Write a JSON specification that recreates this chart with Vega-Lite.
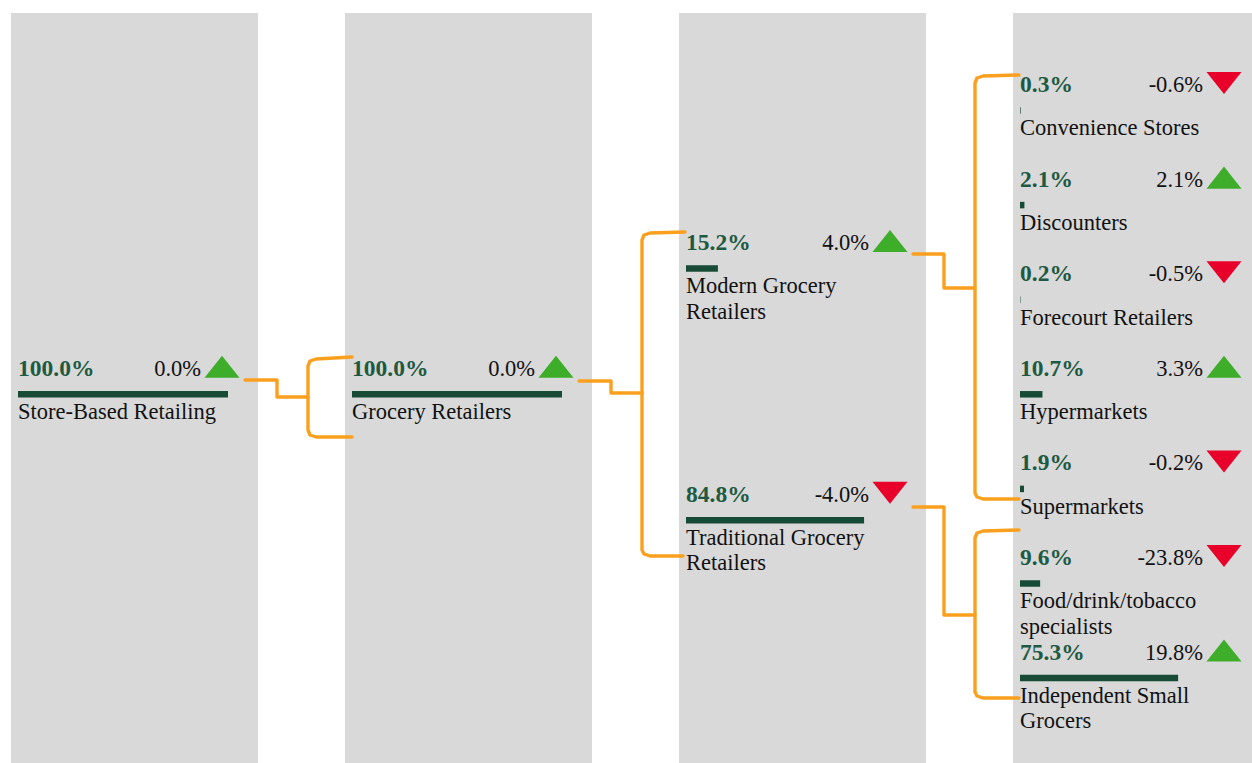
{
  "$schema": "https://vega.github.io/schema/vega-lite/v6.json",
  "width": 1252,
  "height": 763,
  "autosize": {"type": "none"},
  "padding": 0,
  "background": "#ffffff",
  "config": {"view": {"stroke": null}, "font": "Liberation Serif"},
  "datasets": {
    "columns": [{"level": 0}, {"level": 1}, {"level": 2}, {"level": 3}],
    "links": [
      {"id": "A-stub", "ord": 0, "x": 245, "y": 380},
      {"id": "A-stub", "ord": 1, "x": 277, "y": 380},
      {"id": "A-stub", "ord": 2, "x": 277, "y": 397},
      {"id": "A-stub", "ord": 3, "x": 308, "y": 397},
      {"id": "A-br", "ord": 0, "x": 352, "y": 357},
      {"id": "A-br", "ord": 1, "x": 316, "y": 359},
      {"id": "A-br", "ord": 2, "x": 310, "y": 361},
      {"id": "A-br", "ord": 3, "x": 308, "y": 366},
      {"id": "A-br", "ord": 4, "x": 308, "y": 430},
      {"id": "A-br", "ord": 5, "x": 310, "y": 435},
      {"id": "A-br", "ord": 6, "x": 316, "y": 437},
      {"id": "A-br", "ord": 7, "x": 352, "y": 437},
      {"id": "B-stub", "ord": 0, "x": 579, "y": 381},
      {"id": "B-stub", "ord": 1, "x": 611, "y": 381},
      {"id": "B-stub", "ord": 2, "x": 611, "y": 393},
      {"id": "B-stub", "ord": 3, "x": 642, "y": 393},
      {"id": "B-br", "ord": 0, "x": 685, "y": 232},
      {"id": "B-br", "ord": 1, "x": 650, "y": 233},
      {"id": "B-br", "ord": 2, "x": 644, "y": 235},
      {"id": "B-br", "ord": 3, "x": 642, "y": 240},
      {"id": "B-br", "ord": 4, "x": 642, "y": 550},
      {"id": "B-br", "ord": 5, "x": 644, "y": 554},
      {"id": "B-br", "ord": 6, "x": 650, "y": 556},
      {"id": "B-br", "ord": 7, "x": 683, "y": 556},
      {"id": "C-stub", "ord": 0, "x": 913, "y": 254},
      {"id": "C-stub", "ord": 1, "x": 944, "y": 254},
      {"id": "C-stub", "ord": 2, "x": 944, "y": 288},
      {"id": "C-stub", "ord": 3, "x": 975, "y": 288},
      {"id": "C-br", "ord": 0, "x": 1019, "y": 75},
      {"id": "C-br", "ord": 1, "x": 983, "y": 76},
      {"id": "C-br", "ord": 2, "x": 977, "y": 78},
      {"id": "C-br", "ord": 3, "x": 975, "y": 83},
      {"id": "C-br", "ord": 4, "x": 975, "y": 493},
      {"id": "C-br", "ord": 5, "x": 977, "y": 497},
      {"id": "C-br", "ord": 6, "x": 983, "y": 499},
      {"id": "C-br", "ord": 7, "x": 1019, "y": 499},
      {"id": "D-stub", "ord": 0, "x": 913, "y": 507},
      {"id": "D-stub", "ord": 1, "x": 944, "y": 507},
      {"id": "D-stub", "ord": 2, "x": 944, "y": 615},
      {"id": "D-stub", "ord": 3, "x": 975, "y": 615},
      {"id": "D-br", "ord": 0, "x": 1019, "y": 530},
      {"id": "D-br", "ord": 1, "x": 983, "y": 531},
      {"id": "D-br", "ord": 2, "x": 977, "y": 533},
      {"id": "D-br", "ord": 3, "x": 975, "y": 538},
      {"id": "D-br", "ord": 4, "x": 975, "y": 692},
      {"id": "D-br", "ord": 5, "x": 977, "y": 696},
      {"id": "D-br", "ord": 6, "x": 983, "y": 698},
      {"id": "D-br", "ord": 7, "x": 1019, "y": 698}
    ],
    "nodes": [
      {"name": "Store-Based Retailing", "share": 100.0, "change": 0.0, "level": 0, "slot": 3},
      {"name": "Grocery Retailers", "share": 100.0, "change": 0.0, "level": 1, "slot": 3},
      {"name": "Modern Grocery\nRetailers", "share": 15.2, "change": 4.0, "level": 2, "slot": 1.67},
      {"name": "Traditional Grocery\nRetailers", "share": 84.8, "change": -4.0, "level": 2, "slot": 4.331},
      {"name": "Convenience Stores", "share": 0.3, "change": -0.6, "level": 3, "slot": 0},
      {"name": "Discounters", "share": 2.1, "change": 2.1, "level": 3, "slot": 1},
      {"name": "Forecourt Retailers", "share": 0.2, "change": -0.5, "level": 3, "slot": 2},
      {"name": "Hypermarkets", "share": 10.7, "change": 3.3, "level": 3, "slot": 3},
      {"name": "Supermarkets", "share": 1.9, "change": -0.2, "level": 3, "slot": 4},
      {"name": "Food/drink/tobacco\nspecialists", "share": 9.6, "change": -23.8, "level": 3, "slot": 5},
      {"name": "Independent Small\nGrocers", "share": 75.3, "change": 19.8, "level": 3, "slot": 6}
    ]
  },
  "layer": [
    {
      "data": {"name": "columns"},
      "transform": [
        {"calculate": "11 + 334 * datum.level", "as": "x0"},
        {"calculate": "datum.x0 + 247", "as": "x1"}
      ],
      "mark": {"type": "rect", "color": "#D9D9D9"},
      "encoding": {
        "x": {"field": "x0", "type": "quantitative", "scale": {"domain": [0, 1252], "nice": false, "zero": false}, "axis": null},
        "x2": {"field": "x1"},
        "y": {"datum": 13, "type": "quantitative", "scale": {"domain": [0, 763], "nice": false, "zero": false, "reverse": true}, "axis": null},
        "y2": {"datum": 763}
      }
    },
    {
      "data": {"name": "links"},
      "mark": {"type": "line", "color": "#FBA01E", "strokeWidth": 3.4, "strokeJoin": "round", "strokeCap": "round"},
      "encoding": {
        "x": {"field": "x", "type": "quantitative"},
        "y": {"field": "y", "type": "quantitative"},
        "detail": {"field": "id"},
        "order": {"field": "ord", "type": "quantitative"}
      }
    },
    {
      "data": {"name": "nodes"},
      "transform": [
        {"calculate": "18 + 334 * datum.level", "as": "xl"},
        {"calculate": "92 + 94.6 * datum.slot", "as": "yb"},
        {"calculate": "datum.xl + 183", "as": "xchg"},
        {"calculate": "datum.xl + 204", "as": "xtri"},
        {"calculate": "datum.yb - 9", "as": "ytri"},
        {"calculate": "datum.xl + datum.share * 2.1", "as": "xbar2"},
        {"calculate": "datum.yb + 18.5", "as": "ybar"},
        {"calculate": "datum.yb + 43.3", "as": "ylab"},
        {"calculate": "format(datum.share, '.1f') + '%'", "as": "pct_txt"},
        {"calculate": "replace(format(datum.change, '.1f'), '\u2212', '-') + '%'", "as": "chg_txt"}
      ],
      "layer": [
        {
          "mark": {"type": "rule", "color": "#174B36", "strokeWidth": 6.5, "strokeCap": "butt"},
          "encoding": {
            "x": {"field": "xl", "type": "quantitative"},
            "x2": {"field": "xbar2"},
            "y": {"field": "ybar", "type": "quantitative"}
          }
        },
        {
          "mark": {"type": "text", "align": "left", "baseline": "alphabetic", "fontSize": 23.5, "fontWeight": "bold", "color": "#1E5A41"},
          "encoding": {
            "x": {"field": "xl", "type": "quantitative"},
            "y": {"field": "yb", "type": "quantitative"},
            "text": {"field": "pct_txt"}
          }
        },
        {
          "mark": {"type": "text", "align": "right", "baseline": "alphabetic", "fontSize": 22.5, "color": "#111111"},
          "encoding": {
            "x": {"field": "xchg", "type": "quantitative"},
            "y": {"field": "yb", "type": "quantitative"},
            "text": {"field": "chg_txt"}
          }
        },
        {
          "mark": {"type": "point", "filled": true, "opacity": 1, "size": 1225, "strokeWidth": 0},
          "encoding": {
            "x": {"field": "xtri", "type": "quantitative"},
            "y": {"field": "ytri", "type": "quantitative"},
            "shape": {
              "condition": {"test": "datum.change >= 0", "value": "M0,-0.63L1,0.63L-1,0.63Z"},
              "value": "M-1,-0.63L1,-0.63L0,0.63Z"
            },
            "color": {
              "condition": {"test": "datum.change >= 0", "value": "#3EAD2A"},
              "value": "#E8002B"
            }
          }
        },
        {
          "mark": {"type": "text", "align": "left", "baseline": "alphabetic", "fontSize": 22.5, "color": "#111111", "lineBreak": "\n", "lineHeight": 25.4},
          "encoding": {
            "x": {"field": "xl", "type": "quantitative"},
            "y": {"field": "ylab", "type": "quantitative"},
            "text": {"field": "name"}
          }
        }
      ]
    }
  ]
}
